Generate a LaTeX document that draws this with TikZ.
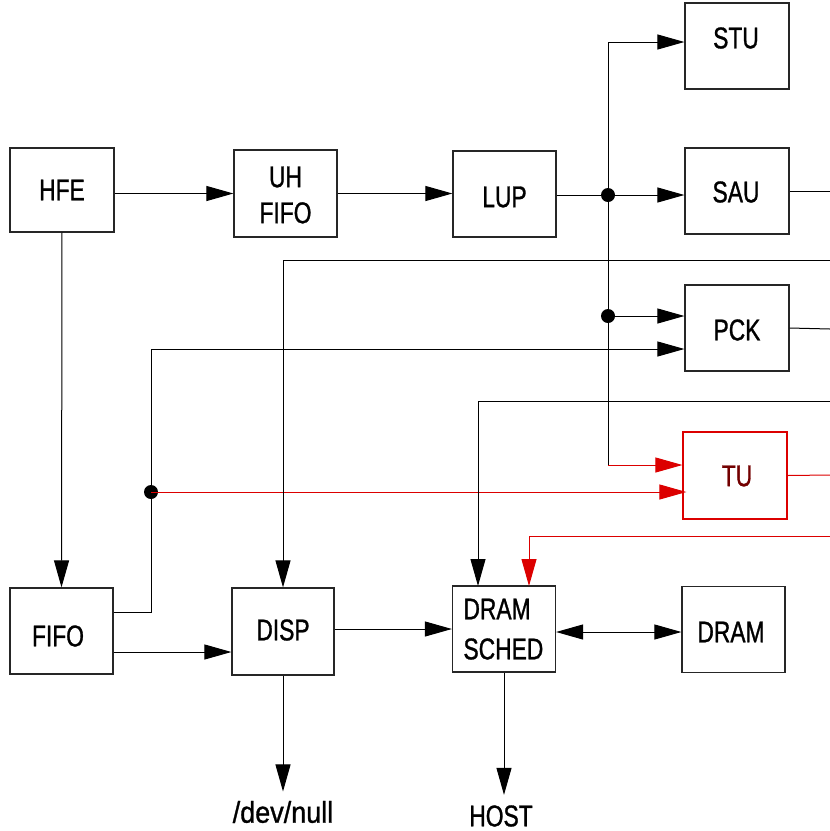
\documentclass[tikz,border=0pt]{standalone}
\usepackage{fontspec}
\setmainfont[FakeStretch=0.76,FakeBold=1.0]{Liberation Sans}
\newfontfamily\widefont[FakeStretch=0.9,FakeBold=1.0]{Liberation Sans}
\usetikzlibrary{arrows.meta}
\definecolor{myred}{RGB}{220,0,0}
\definecolor{tutext}{RGB}{115,0,0}
\begin{document}
\begin{tikzpicture}[x=1pt,y=-1pt,line width=1pt,
  box/.style={draw=black!85,line width=1.2pt,minimum width=103pt,minimum height=86pt,inner sep=0pt},
  lbl/.style={font=\fontsize{30}{36}\selectfont,inner sep=0pt},
  arr/.style={-{Triangle[length=27pt,width=15pt]}},
  biarr/.style={{Triangle[length=27pt,width=15pt]}-{Triangle[length=27pt,width=15pt]}},
  jdot/.style={circle,fill=black,inner sep=0pt,minimum size=14pt}]
\useasboundingbox (0,0) rectangle (830,831);
% boxes
\node[box,minimum width=104pt,minimum height=84pt] (hfe) at (62,190) {};
\node[lbl] (hfel) at (62,190) {HFE};
\node[box,minimum height=87pt] (uhfifo) at (285.5,193.5) {};
\node[lbl,align=center] (uhfifol) at (285.5,195) {UH\\FIFO};
\node[box] (lup) at (504.5,194) {};
\node[lbl] (lupl) at (504.5,197) {LUP};
\node[box,minimum width=104pt] (stu) at (737,46) {};
\node[lbl] (stul) at (736,38) {STU};
\node[box,minimum width=104pt] (sau) at (737,191) {};
\node[lbl] (saul) at (736,192) {SAU};
\node[box,minimum width=104pt] (pck) at (737,328) {};
\node[lbl] (pckl) at (737,330) {PCK};
\node[box,draw=myred,minimum width=104pt,minimum height=87pt] (tu) at (735,475.5) {};
\node[lbl,text=tutext] (tul) at (737,476) {TU};
\node[box] (fifo) at (61.5,631) {};
\node[lbl] (fifol) at (58,636) {FIFO};
\node[box,minimum width=102pt,minimum height=87pt] (disp) at (283,631.5) {};
\node[lbl] (displ) at (283,630) {DISP};
\node[box] (dsched) at (504,629) {};
\node[lbl,anchor=west] (dsl1) at (463,609) {DRAM};
\node[lbl,anchor=west] (dsl2) at (463,649) {SCHED};
\node[box] (dram) at (733.5,629.5) {};
\node[lbl] (draml) at (731,632) {DRAM};
\node[lbl,font=\widefont\fontsize{30}{36}\selectfont] (devnull) at (283,812) {/dev/null};
\node[lbl] (host) at (501,816) {HOST};
% junctions and bend points
\node[jdot] (j1) at (608,195) {};
\node[jdot] (j2) at (608,316) {};
\node[jdot] (j3) at (151,492) {};
\coordinate (top) at (608,42);
\coordinate (tuin) at (608,465);
\coordinate (f1) at (151,612);
\coordinate (f2) at (151,349);
\coordinate (e1) at (830,260);
\coordinate (e2) at (830,401);
\coordinate (e3) at (830,536);
\coordinate (d1) at (478,586);
\coordinate (d2) at (529,586);
\coordinate (r1) at (830,191);
\coordinate (r2) at (830,329);
\coordinate (r3) at (830,475);
% connectors
\draw[arr] (hfe.east |- uhfifo.west) -- (uhfifo.west);
\draw[arr] (uhfifo.east) -- (lup.west |- uhfifo.east);
\draw (lup.east |- j1) -- (j1.center);
\draw[arr] (j1.center) -- (sau.west |- j1);
\draw[arr] (j1.center) |- (stu.west |- top);
\draw (j1.center) -- (j2.center);
\draw[arr] (j2.center) -- (pck.west |- j2);
\draw (j2.center) -- (tuin);
\draw[arr,myred] (tuin) -- (tu.west |- tuin);
\draw[arr] (hfe.south) -- (fifo.north);
\draw (fifo.east |- f1) -- (f1) -- (j3.center);
\draw[arr] (j3.center) -- (f2) -- (pck.west |- f2);
\draw[arr,myred] (j3.center) -- ([xshift=4pt]tu.west |- j3);
\draw[arr] ([yshift=-21pt]fifo.east) -- (disp.west |- 0,652);
\draw[arr] (e1) -| (disp.north);
\draw[arr] (disp.east |- dsched.west) -- (dsched.west |- dsched.west);
\draw[biarr] ([yshift=-3pt]dsched.east) -- ([yshift=-3pt]dsched.east -| dram.west);
\draw[arr] (e2) -| (d1);
\draw[arr,myred] (e3) -| (d2);
\draw (sau.east) -- (r1);
\draw (pck.east) -- (r2);
\draw[myred] (tu.east) -- (r3);
\draw[arr] (disp.south) -- ([yshift=9pt]devnull.north);
\draw[arr] (dsched.south) -- ([yshift=10pt]host.north -| dsched.south);
\end{tikzpicture}
\end{document}
